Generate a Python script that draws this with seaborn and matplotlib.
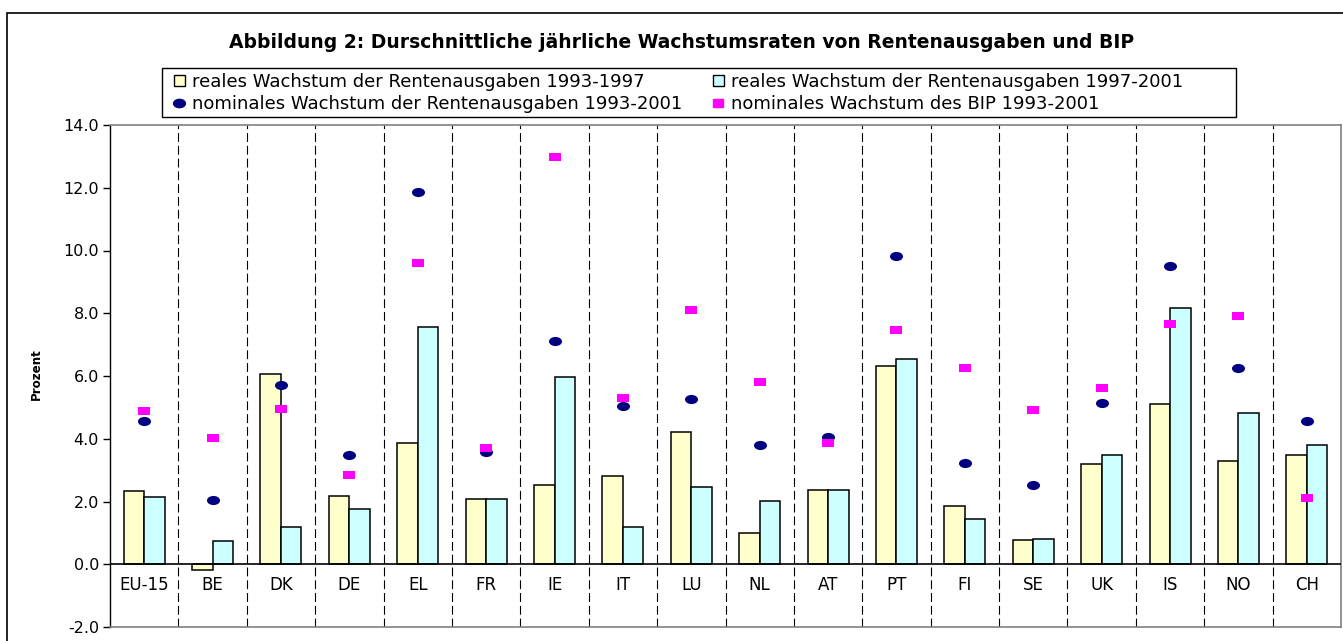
import numpy as np
import pandas as pd
import matplotlib.pyplot as plt
import seaborn as sns
from matplotlib.path import Path
from matplotlib.patches import Patch, Rectangle
from matplotlib.lines import Line2D
from matplotlib.transforms import Affine2D

categories = ["EU-15", "BE", "DK", "DE", "EL", "FR", "IE", "IT", "LU",
              "NL", "AT", "PT", "FI", "SE", "UK", "IS", "NO", "CH"]
real_93_97 = [2.35, -0.19, 6.07, 2.16, 3.88, 2.07, 2.53, 2.81, 4.21,
              1.00, 2.36, 6.32, 1.85, 0.78, 3.20, 5.12, 3.29, 3.47]
real_97_01 = [2.14, 0.73, 1.19, 1.76, 7.57, 2.08, 5.96, 1.19, 2.46,
              2.01, 2.36, 6.55, 1.44, 0.81, 3.47, 8.17, 4.83, 3.79]
nominal_pensions = [4.55, 2.06, 5.71, 3.48, 11.87, 3.57, 7.13, 5.05, 5.26,
                    3.80, 4.05, 9.82, 3.23, 2.53, 5.14, 9.51, 6.26, 4.58]
nominal_gdp = [4.90, 4.02, 4.94, 2.86, 9.60, 3.71, 12.99, 5.29, 8.10,
               5.80, 3.87, 7.47, 6.27, 4.91, 5.62, 7.65, 7.91, 2.12]

labels = ["reales Wachstum der Rentenausgaben 1993-1997",
          "reales Wachstum der Rentenausgaben 1997-2001",
          "nominales Wachstum der Rentenausgaben 1993-2001",
          "nominales Wachstum des BIP 1993-2001"]
title = "Abbildung 2: Durschnittliche jährliche Wachstumsraten von Rentenausgaben und BIP"

yellow, cyan, navy, magenta = "#FFFFCC", "#CCFFFF", "#000080", "#FF00FF"

sns.set_style("ticks")
plt.rcParams["font.family"] = ["DejaVu Sans"]
for key in ["text.color", "axes.labelcolor", "xtick.color", "ytick.color"]:
    plt.rcParams[key] = "black"

# excel-ish markers: wide ellipse and flat square
ellipse = Path.unit_circle().transformed(Affine2D().scale(1.0, 0.7))
flat_sq = Path([(-1, -0.72), (1, -0.72), (1, 0.72), (-1, 0.72), (-1, -0.72)],
               closed=True)

bars = pd.DataFrame({
    "land": categories * 2,
    "wert": real_93_97 + real_97_01,
    "reihe": [labels[0]] * len(categories) + [labels[1]] * len(categories),
})

fig = plt.figure(figsize=(13.43, 6.41), dpi=100)
W, H = 1343, 641
ax = fig.add_axes([110 / W, 1 - 627 / H, (1341 - 110) / W, (627 - 125) / H])

sns.barplot(data=bars, x="land", y="wert", hue="reihe",
            palette=[yellow, cyan], saturation=1, width=0.6, gap=0,
            errorbar=None, edgecolor="black", linewidth=1.1, legend=False,
            ax=ax, zorder=3)
sns.stripplot(x=categories, y=nominal_pensions, jitter=False, color=navy,
              marker=ellipse, size=9.4, linewidth=0, ax=ax, zorder=5)
sns.stripplot(x=categories, y=nominal_gdp, jitter=False, color=magenta,
              marker=flat_sq, size=8.0, linewidth=0, ax=ax, zorder=6)

ax.set_xlim(-0.5, len(categories) - 0.5)
ax.set_ylim(-2, 14)
yt = np.arange(-2, 14.1, 2)
ax.set_yticks(yt)
ax.set_yticklabels([f"{v:.1f}" for v in yt])
ax.set_xlabel("")
ax.set_ylabel("Prozent", fontsize=8.6, fontweight="bold")
ax.yaxis.set_label_coords(-0.0544, 0.503)

# category separators
ax.vlines(np.arange(0.5, len(categories) - 1), -2, 14, colors="black",
          linestyles=(0, (8, 3.5)), linewidth=0.8, zorder=1)
ax.axhline(0, color="black", linewidth=1.2, zorder=4)

for side in ["top", "right", "bottom"]:
    ax.spines[side].set_color("#808080")
    ax.spines[side].set_linewidth(1.2)
ax.spines["left"].set_color("black")
ax.spines["left"].set_linewidth(1.0)
ax.tick_params(axis="y", length=5, width=1, labelsize=11.5, pad=3)
ax.tick_params(axis="x", length=0, labelsize=12, pad=-37)

fig.text(682 / W, 1 - 43 / H, title, ha="center", va="center",
         fontsize=13.5, fontweight="bold")

# legend box drawn by hand, two columns as two frameless legends
fig.patches.append(Rectangle((162 / W, 1 - 117 / H), (1236 - 162) / W, 49 / H,
                             transform=fig.transFigure, fill=False,
                             edgecolor="black", linewidth=1.0))
col1 = [Patch(facecolor=yellow, edgecolor="black", linewidth=1),
        Line2D([], [], marker=ellipse, color=navy, linestyle="none", markersize=8.5)]
col2 = [Patch(facecolor=cyan, edgecolor="black", linewidth=1),
        Line2D([], [], marker=flat_sq, color=magenta, linestyle="none", markersize=7.5)]
leg_kw = dict(loc="upper left", frameon=False, borderpad=0, borderaxespad=0,
              fontsize=13, handlelength=0.6, handleheight=0.6,
              handletextpad=0.4, labelspacing=0.22)
fig.legend(col1, [labels[0], labels[2]], bbox_to_anchor=(174 / W, 1 - 73 / H), **leg_kw)
fig.legend(col2, [labels[1], labels[3]], bbox_to_anchor=(713 / W, 1 - 73 / H), **leg_kw)

# outer chart frame (right/bottom edges fall outside the picture)
fig.patches.append(Rectangle((7 / W, -0.1), 1.2, 1 - 13 / H + 0.1,
                             transform=fig.transFigure, fill=False,
                             edgecolor="black", linewidth=1.2))

fig.savefig("out.png", dpi=100)
